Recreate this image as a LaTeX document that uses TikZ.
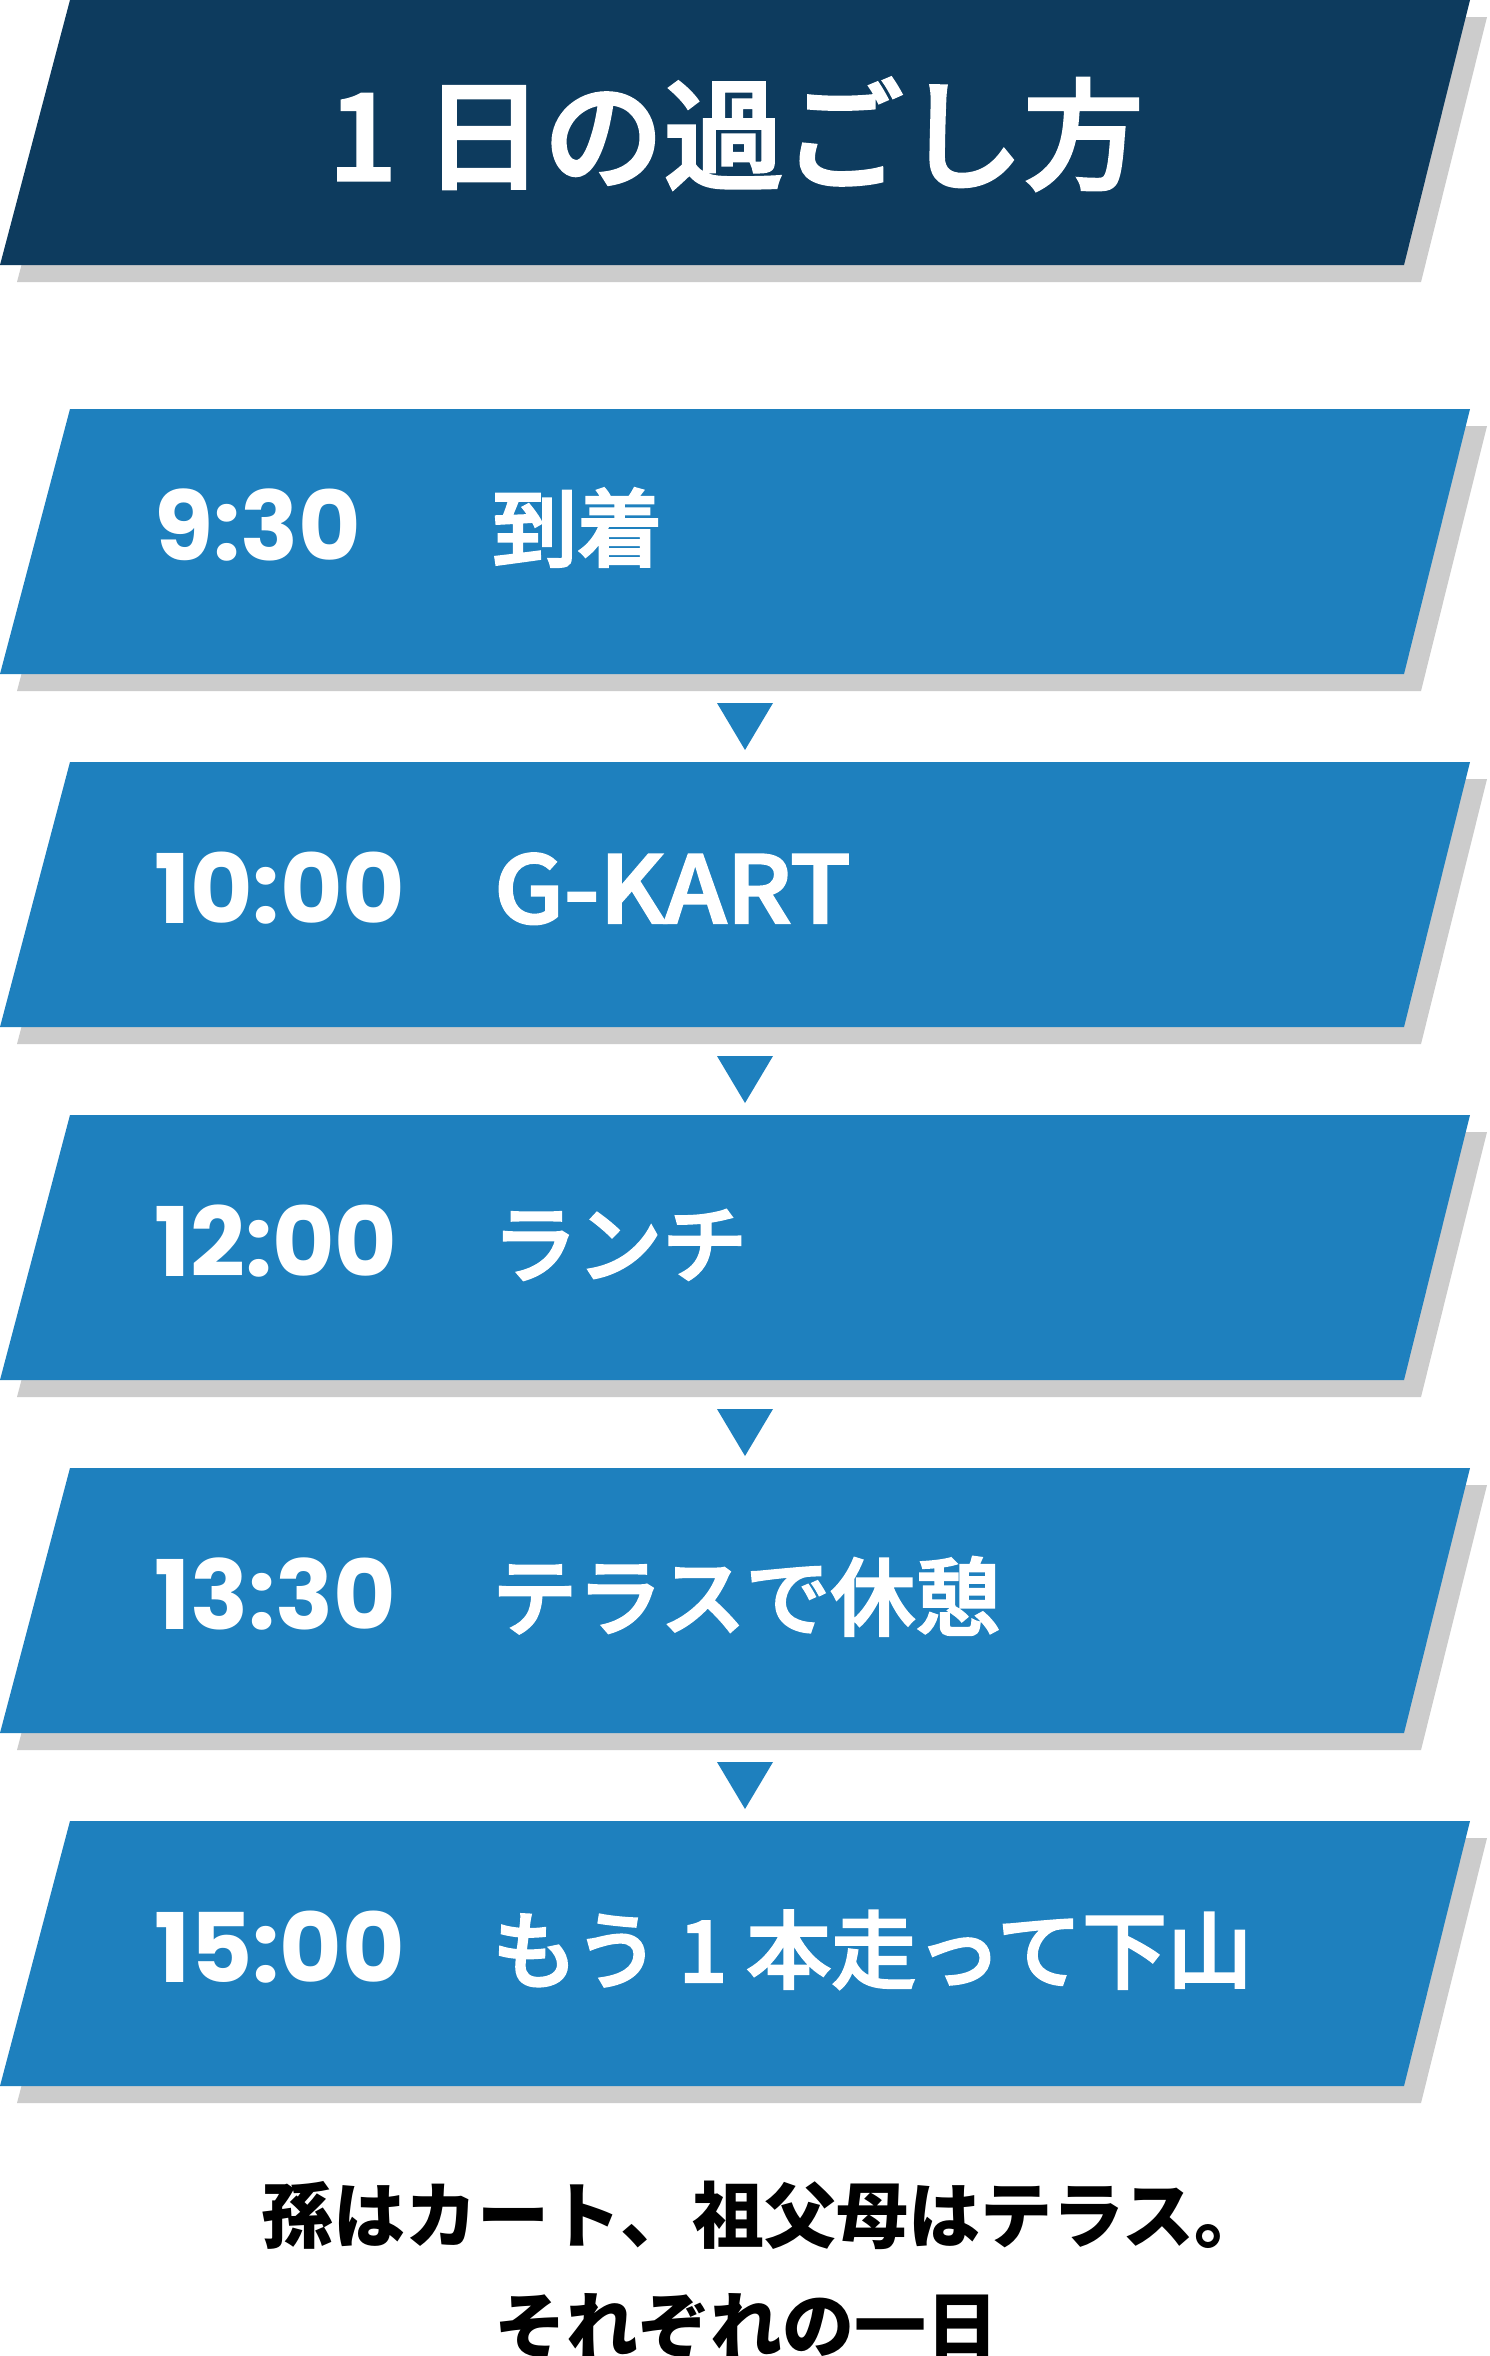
\documentclass[tikz,border=0pt]{standalone}
\usepackage{fontspec}
\usetikzlibrary{calc}
\newfontfamily\cjk{Noto Sans CJK JP}
\newfontfamily\cjkm{Noto Sans CJK JP Medium}[FakeBold=2.5]
\newfontfamily\cjkmw{Noto Sans CJK JP Medium}[FakeStretch=1.07,FakeBold=2.5]
\newfontfamily\pop{Poppins}
\definecolor{navy}{HTML}{0D3B5E}
\definecolor{boxblue}{HTML}{1E80BE}
\definecolor{shadowgray}{HTML}{CCCCCC}
\tikzset{
  timelbl/.style={anchor=base west, inner sep=0pt, text=white, font=\pop\bfseries\fontsize{96}{110}\selectfont},
  actlbl/.style={anchor=base west, inner sep=0pt, text=white, font=\cjkm\fontsize{85}{100}\selectfont},
  titlelbl/.style={anchor=base, inner sep=0pt, text=white, font=\cjkm\fontsize{120}{130}\selectfont},
  notelbl/.style={anchor=base, inner sep=0pt, text=black, font=\cjk\bfseries\fontsize{72}{80}\selectfont},
  arrowtri/.style={fill=boxblue},
}
\newcommand\slantbox[3]{% name, top y, colour
  \fill[shadowgray] (87,#2+17) -- (1487,#2+17) -- (1421,#2+282) -- (17,#2+282) -- cycle;
  \fill[#3] (70,#2) -- (1470,#2) -- (1404,#2+265) -- (0,#2+265) -- cycle;
  \coordinate (#1top) at (745,#2);
  \coordinate (#1bot) at (745,#2+265);
}
\newcommand\tri[2]{% from box, to box
  \fill[arrowtri] ($(#1bot)+(-28,29)$) -- ($(#1bot)+(28,29)$) -- ($(#1bot)+(0,76)$) -- cycle;
}
\begin{document}
\begin{tikzpicture}[x=1pt,y=-1pt]
\useasboundingbox (0,0) rectangle (1490,2356);
\fill[white] (0,0) rectangle (1490,2356);

\slantbox{t}{0}{navy}
\node[titlelbl] (title) at (736,180) {1 日の過ごし方};

\slantbox{a}{409}{boxblue}
\slantbox{b}{762}{boxblue}
\slantbox{c}{1115}{boxblue}
\slantbox{d}{1468}{boxblue}
\slantbox{e}{1821}{boxblue}

\tri{a}{b}
\tri{b}{c}
\tri{c}{d}
\tri{d}{e}

\node[timelbl] (ta) at (154,560) {9:30};
\node[actlbl] (xa) at (492,560) {到着};
\node[timelbl] (tb) at (154,923) {10:00};
\node[actlbl, font=\cjkmw\fontsize{93}{100}\selectfont] (xb) at (494,923) {G-KART};
\node[timelbl] (tc) at (154,1276) {12:00};
\node[actlbl] (xc) at (492,1276) {ランチ};
\node[timelbl] (td) at (154,1629) {13:30};
\node[actlbl] (xd) at (492,1629) {テラスで休憩};
\node[timelbl] (te) at (154,1982) {15:00};
\node[actlbl] (xe) at (492,1982) {もう 1 本走って下山};

\node[notelbl] (n1) at (764,2242) {孫はカート、祖父母はテラス。};
\node[notelbl] (n2) at (746,2352) {それぞれの一日};
\end{tikzpicture}
\end{document}
